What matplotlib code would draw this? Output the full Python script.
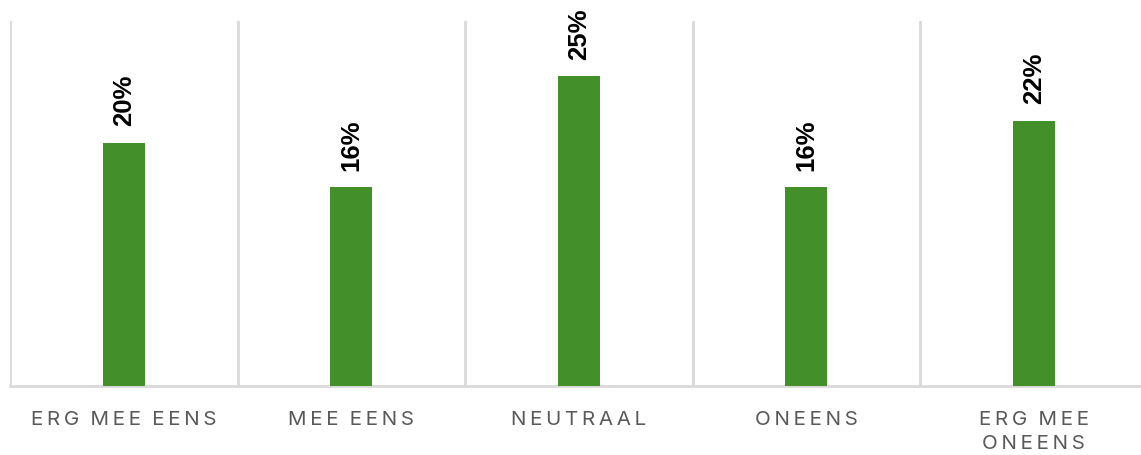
import numpy as np
import matplotlib
matplotlib.use("Agg")
import matplotlib.pyplot as plt

# chart data
categories = ["ERG MEE EENS", "MEE EENS", "NEUTRAAL", "ONEENS", "ERG MEE\nONEENS"]
values = [19.8, 16.2, 25.2, 16.2, 21.6]

BAR_COLOR = "#43902a"
GRID_COLOR = "#d9d9d9"
TEXT_COLOR = "#595959"

plt.rcParams['font.family'] = ['Inter', 'DejaVu Sans']


def spaced(label):
    # fake letter spacing with thin spaces
    lines = []
    for line in label.split("\n"):
        words = [" ".join(w) for w in line.split(" ")]
        lines.append("   ".join(words).replace(" ", "\u2009"))
    return "\n".join(lines)


fig = plt.figure(figsize=(11.41, 4.56), dpi=100)
ax = fig.add_axes([10 / 1141, 69 / 456, 1137.5 / 1141, 365 / 456])

x = np.arange(len(categories))
ax.bar(x, values, width=0.185, color=BAR_COLOR, zorder=3)

for xi, v in zip(x, values):
    ax.text(xi, v + 1.4, "%d%%" % round(v), rotation=90, ha="center",
            va="bottom", fontsize=18.5, fontweight="bold", color="black",
            family=['Liberation Sans', 'DejaVu Sans'], clip_on=False)

# vertical separators between categories
for b in np.arange(-0.5, len(categories) - 0.5, 1.0):
    ax.axvline(b, color=GRID_COLOR, lw=2, zorder=1)

ax.set_xlim(-0.5, len(categories) - 0.5)
ax.set_ylim(0, 29.7)
ax.set_yticks([])
ax.set_xticks(x)
ax.set_xticklabels([spaced(c) for c in categories], fontsize=14.8,
                   color=TEXT_COLOR, linespacing=1.45)
ax.tick_params(axis="x", length=0, pad=17)

for s in ["top", "right", "left"]:
    ax.spines[s].set_visible(False)
ax.spines["bottom"].set_color(GRID_COLOR)
ax.spines["bottom"].set_linewidth(2)

fig.savefig("out.png", dpi=100)
